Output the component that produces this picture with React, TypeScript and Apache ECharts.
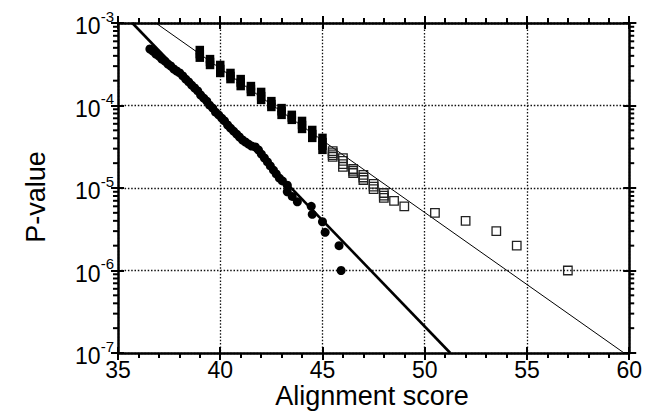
import React, { useEffect, useRef } from "react";
import * as echarts from "echarts";

const FONT = '"Liberation Sans", Arial, Helvetica, sans-serif';

const X_MIN = 35;
const X_MAX = 60;
const X_INTERVAL = 5;
const Y_MIN = 1e-7;
const Y_MAX = 1e-3;

// filled circles (score, P-value)
const circleScores = [
  36.56, 36.7, 36.85, 37.0, 37.14, 37.29, 37.44, 37.58, 37.73, 37.87, 38.02, 38.17,
  38.31, 38.46, 38.6, 38.75, 38.9, 39.04, 39.19, 39.34, 39.48, 39.63, 39.77, 39.92,
  40.07, 40.21, 40.36, 40.5, 40.65, 40.8, 40.94, 41.09, 41.23, 41.38, 41.53, 41.72,
  41.87, 42.01, 42.16, 42.31, 42.45, 42.6, 42.74, 42.89, 43.04, 43.28, 43.28, 43.52,
  43.77, 44.45, 44.5, 45.0, 45.13, 45.81, 45.91,
];
const circleP = [
  4.84e-4, 4.58e-4, 4.21e-4, 3.98e-4, 3.66e-4, 3.46e-4, 3.18e-4, 3.01e-4, 2.77e-4, 2.62e-4, 2.48e-4, 2.28e-4,
  2.09e-4, 1.93e-4, 1.77e-4, 1.63e-4, 1.5e-4, 1.34e-4, 1.23e-4, 1.13e-4, 1.01e-4, 9.3e-5, 8.3e-5, 7.7e-5,
  7.05e-5, 6.5e-5, 5.8e-5, 5.33e-5, 4.9e-5, 4.5e-5, 4.15e-5, 3.82e-5, 3.61e-5, 3.41e-5, 3.23e-5, 3.14e-5,
  2.89e-5, 2.58e-5, 2.31e-5, 2.07e-5, 1.85e-5, 1.65e-5, 1.48e-5, 1.32e-5, 1.22e-5, 1.08e-5, 9e-6, 7.9e-6,
  6.8e-6, 6e-6, 4.8e-6, 3.9e-6, 2.9e-6, 2e-6, 1e-6,
];

// filled squares (densely overlapping)
const filledSquareScores = [
  39.0, 39.0, 39.0, 39.5, 39.5, 39.5, 40.0, 40.0, 40.0, 40.5, 40.5, 40.5,
  41.0, 41.0, 41.0, 41.5, 41.5, 41.5, 42.0, 42.0, 42.0, 42.5, 42.5, 42.5,
  43.0, 43.0, 43.0, 43.5, 43.5, 43.5, 44.0, 44.0, 44.0, 44.5, 44.5, 44.5,
  45.0, 45.0, 45.0, 45.0,
];
const filledSquareP = [
  4.7e-4, 4.2e-4, 3.8e-4, 3.65e-4, 3.37e-4, 3.1e-4, 3.1e-4, 2.77e-4, 2.48e-4, 2.48e-4, 2.28e-4, 2.09e-4,
  2.09e-4, 1.9e-4, 1.72e-4, 1.72e-4, 1.58e-4, 1.46e-4, 1.46e-4, 1.3e-4, 1.17e-4, 1.13e-4, 1.04e-4, 9.6e-5,
  9.3e-5, 8.5e-5, 7.7e-5, 7.7e-5, 7.15e-5, 6.7e-5, 6.5e-5, 5.8e-5, 5.2e-5, 5.05e-5, 4.5e-5, 4.05e-5,
  4.05e-5, 3.6e-5, 3.25e-5, 2.9e-5,
];

// open squares
const openSquareScores = [
  45.5, 45.5, 45.5, 45.5, 46.0, 46.0, 46.0, 46.0, 46.5, 46.5, 46.5, 47.0, 47.0, 47.0,
  47.5, 47.5, 47.5, 48.0, 48.0, 48.0, 48.5, 49.0, 50.5, 52.0, 53.5, 54.5, 57.0,
];
const openSquareP = [
  2.8e-5, 2.65e-5, 2.5e-5, 2.38e-5, 2.3e-5, 2.13e-5, 1.95e-5, 1.8e-5, 1.7e-5, 1.61e-5, 1.52e-5, 1.44e-5, 1.34e-5, 1.25e-5,
  1.12e-5, 1.04e-5, 9.7e-6, 8.7e-6, 8.1e-6, 7.6e-6, 7e-6, 6e-6, 5e-6, 4e-6, 3e-6, 2e-6, 1e-6,
];

// fitted lines: endpoints [score, P]
const thickFitScores = [35.7, 51.25];
const thickFitP = [1e-3, 1e-7];
const thinFitScores = [36.85, 59.75];
const thinFitP = [1e-3, 1e-7];

// minor log ticks on the P-value axis
const yMinorTicks: number[] = [];
for (let e = -7; e < -3; e++) {
  for (let m = 2; m <= 9; m++) yMinorTicks.push(m * Math.pow(10, e));
}

const zip = (a: number[], b: number[]) => a.map((v, i) => [v, b[i]]);

export default function App() {
  const ref = useRef<HTMLDivElement>(null);
  useEffect(() => {
    if (!ref.current) return;
    const chart = echarts.init(ref.current, undefined, { renderer: "svg" });
    const axisLineStyle = { color: "#000", width: 2.5 };
    const baseX = { type: "value", min: X_MIN, max: X_MAX, interval: X_INTERVAL };
    const baseY = { type: "log", logBase: 10, min: Y_MIN, max: Y_MAX };
    const hiddenLabel = { show: false };
    const option: any = {
      animation: false,
      backgroundColor: "#fff",
      grid: { left: 118, right: 14, top: 23, bottom: 59, containLabel: false },
      xAxis: [
        {
          ...baseX,
          position: "bottom",
          axisLine: { show: true, lineStyle: axisLineStyle },
          axisTick: { show: true, inside: false, length: 7, lineStyle: { color: "#000", width: 2 } },
          minorTick: { show: true, splitNumber: 5, length: 5, lineStyle: { color: "#000", width: 2 } },
          splitLine: { show: true, lineStyle: { color: "#111", width: 1.3, type: [1.5, 1.8] } },
          axisLabel: { show: true, margin: 5, fontSize: 23, color: "#000", fontFamily: FONT },
        },
        {
          ...baseX,
          position: "bottom",
          axisLine: { show: false },
          axisTick: { show: true, inside: true, length: 6, lineStyle: { color: "#000", width: 2 } },
          splitLine: { show: false },
          axisLabel: hiddenLabel,
        },
        {
          ...baseX,
          position: "top",
          axisLine: { show: true, lineStyle: axisLineStyle },
          axisTick: { show: true, inside: false, length: 7, lineStyle: { color: "#000", width: 2 } },
          minorTick: { show: true, splitNumber: 5, length: 5, lineStyle: { color: "#000", width: 2 } },
          splitLine: { show: false },
          axisLabel: hiddenLabel,
        },
        {
          ...baseX,
          position: "top",
          axisLine: { show: false },
          axisTick: { show: true, inside: true, length: 6, lineStyle: { color: "#000", width: 2 } },
          splitLine: { show: false },
          axisLabel: hiddenLabel,
        },
      ],
      yAxis: [
        {
          ...baseY,
          position: "left",
          axisLine: { show: true, lineStyle: axisLineStyle },
          axisTick: { show: true, inside: false, length: 7, lineStyle: { color: "#000", width: 2 } },
          splitLine: { show: true, lineStyle: { color: "#111", width: 1.3, type: [1.5, 1.8] } },
          axisLabel: {
            show: true,
            margin: 4,
            formatter: (v: number) => `{b|10}{s|${Math.round(Math.log10(v))}}`,
            rich: {
              b: { fontSize: 23, fontFamily: FONT, color: "#000", padding: [6, 0, 0, 0] },
              s: { fontSize: 15, fontFamily: FONT, color: "#000", verticalAlign: "top" },
            },
          },
        },
        {
          ...baseY,
          position: "left",
          axisLine: { show: false },
          axisTick: { show: true, inside: true, length: 6, lineStyle: { color: "#000", width: 2 } },
          splitLine: { show: false },
          axisLabel: hiddenLabel,
        },
        {
          ...baseY,
          position: "right",
          axisLine: { show: true, lineStyle: axisLineStyle },
          axisTick: { show: true, inside: false, length: 7, lineStyle: { color: "#000", width: 2 } },
          splitLine: { show: false },
          axisLabel: hiddenLabel,
        },
        {
          ...baseY,
          position: "right",
          axisLine: { show: false },
          axisTick: { show: true, inside: true, length: 6, lineStyle: { color: "#000", width: 2 } },
          splitLine: { show: false },
          axisLabel: hiddenLabel,
        },
      ],
      graphic: [
        {
          type: "text",
          x: 372,
          y: 396,
          style: { text: "Alignment score", font: `27px ${FONT}`, fill: "#000", align: "center", verticalAlign: "middle" },
        },
        {
          type: "text",
          x: 36,
          y: 197,
          rotation: Math.PI / 2,
          style: { text: "P-value", font: `27px ${FONT}`, fill: "#000", align: "center", verticalAlign: "middle" },
        },
      ],
      series: [
        {
          type: "custom",
          xAxisIndex: 0,
          yAxisIndex: 0,
          silent: true,
          clip: false,
          data: yMinorTicks.map((v) => [X_MIN, v]),
          encode: { x: 0, y: 1 },
          renderItem: (_p: any, api: any) => {
            const v = api.value(1);
            const l = api.coord([X_MIN, v]);
            const r = api.coord([X_MAX, v]);
            return {
              type: "group",
              children: [
                { type: "line", shape: { x1: l[0] - 5, y1: l[1], x2: l[0], y2: l[1] }, style: { stroke: "#000", lineWidth: 2 } },
                { type: "line", shape: { x1: r[0], y1: r[1], x2: r[0] + 5, y2: r[1] }, style: { stroke: "#000", lineWidth: 2 } },
              ],
            };
          },
        },
        {
          type: "line",
          data: zip(thinFitScores, thinFitP),
          symbol: "none",
          lineStyle: { color: "#000", width: 1 },
          z: 2,
        },
        {
          type: "line",
          data: zip(thickFitScores, thickFitP),
          symbol: "none",
          lineStyle: { color: "#000", width: 2.6 },
          z: 2,
        },
        {
          type: "scatter",
          data: zip(openSquareScores, openSquareP),
          symbol: "rect",
          symbolSize: 8.5,
          itemStyle: { color: "transparent", borderColor: "#222", borderWidth: 1.3, opacity: 1 },
          z: 3,
        },
        {
          type: "scatter",
          data: zip(filledSquareScores, filledSquareP),
          symbol: "rect",
          symbolSize: 8.5,
          itemStyle: { color: "#000", opacity: 1 },
          z: 3,
        },
        {
          type: "scatter",
          data: zip(circleScores, circleP),
          symbol: "circle",
          symbolSize: 9,
          itemStyle: { color: "#000", opacity: 1 },
          z: 3,
        },
      ],
    };
    chart.setOption(option);
    return () => chart.dispose();
  }, []);
  return (
    <div
      ref={ref}
      style={{ position: "fixed", left: 0, top: 0, width: 645, height: 412, background: "#fff" }}
    />
  );
}
